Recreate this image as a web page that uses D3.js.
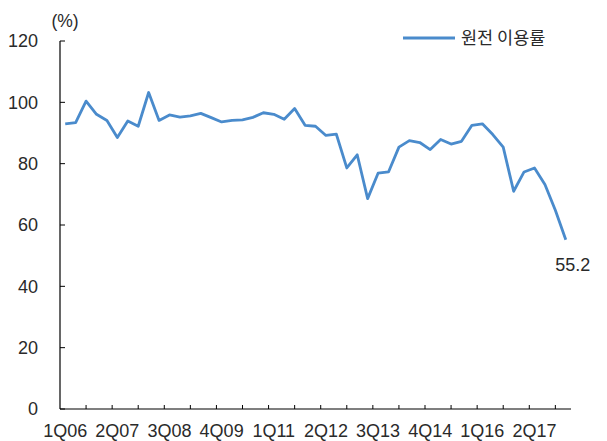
<!DOCTYPE html>
<html>
<head>
<meta charset="utf-8">
<script src="https://cdn.jsdelivr.net/npm/d3@7"></script>
<style>
  body { margin: 0; background: #fff; }
  text { font-family: "Liberation Sans", Arial, "Noto Sans CJK KR", sans-serif; fill: #2a2a2a; }
</style>
</head>
<body>
<svg id="chart"></svg>
<script>
const width = 607;
const height = 441;

const quarters = [
  '1Q06','2Q06','3Q06','4Q06','1Q07','2Q07','3Q07','4Q07',
  '1Q08','2Q08','3Q08','4Q08','1Q09','2Q09','3Q09','4Q09',
  '1Q10','2Q10','3Q10','4Q10','1Q11','2Q11','3Q11','4Q11',
  '1Q12','2Q12','3Q12','4Q12','1Q13','2Q13','3Q13','4Q13',
  '1Q14','2Q14','3Q14','4Q14','1Q15','2Q15','3Q15','4Q15',
  '1Q16','2Q16','3Q16','4Q16','1Q17','2Q17','3Q17','4Q17',
  '1Q18'
];
const utilization = [
  93.0, 93.4, 100.4, 96.1, 94.1, 88.5, 93.9, 92.2,
  103.2, 94.1, 95.9, 95.2, 95.6, 96.4, 95.0, 93.6,
  94.1, 94.3, 95.1, 96.6, 96.1, 94.5, 98.0, 92.5,
  92.2, 89.2, 89.6, 78.6, 82.9, 68.6, 76.9, 77.3,
  85.4, 87.5, 86.9, 84.6, 87.9, 86.4, 87.3, 92.5,
  93.0, 89.5, 85.4, 71.0, 77.3, 78.6, 73.2, 64.8,
  55.2
];
const xTickLabels = ['1Q06','2Q07','3Q08','4Q09','1Q11','2Q12','3Q13','4Q14','1Q16','2Q17'];
const yTicks = [0, 20, 40, 60, 80, 100, 120];
const seriesName = '원전 이용률';

const plotLeft = 60, plotRight = 571, plotTop = 41, plotBottom = 409;
const lineColor = '#4a8bcc';

const svg = d3.select('#chart')
  .attr('width', width)
  .attr('height', height);

const x = d3.scaleBand()
  .domain(quarters)
  .range([plotLeft, plotRight]);

const y = d3.scaleLinear()
  .domain([0, 120])
  .range([plotBottom, plotTop]);

const xc = d => x(d) + x.bandwidth() / 2;

// y axis
svg.append('line')
  .attr('x1', plotLeft).attr('x2', plotLeft)
  .attr('y1', plotTop).attr('y2', plotBottom)
  .attr('stroke', '#000').attr('stroke-width', 1.2);

svg.append('g')
  .selectAll('line')
  .data(yTicks)
  .enter()
  .append('line')
  .attr('x1', plotLeft).attr('x2', plotLeft + 5)
  .attr('y1', d => y(d)).attr('y2', d => y(d))
  .attr('stroke', '#000');

svg.append('g')
  .selectAll('text')
  .data(yTicks)
  .enter()
  .append('text')
  .attr('x', 38)
  .attr('y', d => y(d))
  .attr('dy', '0.36em')
  .attr('text-anchor', 'end')
  .style('font-size', '18px')
  .text(d => d);

svg.append('text')
  .attr('x', 65)
  .attr('y', 27)
  .attr('text-anchor', 'middle')
  .style('font-size', '17.5px')
  .text('(%)');

// x axis
svg.append('line')
  .attr('x1', plotLeft).attr('x2', plotRight)
  .attr('y1', plotBottom).attr('y2', plotBottom)
  .attr('stroke', '#000').attr('stroke-width', 1.2);

// minor ticks every 2.5 quarters
const tickStep = x.step() * 2.5;
const xTickPos = d3.range(1, 20).map(k => plotLeft + k * tickStep);
svg.append('g')
  .selectAll('line')
  .data(xTickPos)
  .enter()
  .append('line')
  .attr('x1', d => d).attr('x2', d => d)
  .attr('y1', plotBottom).attr('y2', plotBottom - 4)
  .attr('stroke', '#000');

svg.append('g')
  .selectAll('text')
  .data(xTickLabels)
  .enter()
  .append('text')
  .attr('x', d => xc(d))
  .attr('y', 437)
  .attr('text-anchor', 'middle')
  .style('font-size', '18px')
  .text(d => d);

// line
const data = quarters.map((q, i) => ({q: q, v: utilization[i]}));

svg.append('path')
  .datum(data)
  .attr('fill', 'none')
  .attr('stroke', lineColor)
  .attr('stroke-width', 2.8)
  .attr('stroke-linejoin', 'round')
  .attr('d', d3.line()
    .x(d => xc(d.q))
    .y(d => y(d.v)));

// last value label
const last = data[data.length - 1];
svg.append('text')
  .attr('x', xc(last.q) + 7)
  .attr('y', 271)
  .attr('text-anchor', 'middle')
  .style('font-size', '18px')
  .text(last.v.toFixed(1));

// legend
svg.append('line')
  .attr('x1', 403).attr('x2', 455)
  .attr('y1', 38).attr('y2', 38)
  .attr('stroke', lineColor).attr('stroke-width', 2.8);

svg.append('text')
  .attr('x', 461)
  .attr('y', 38)
  .attr('dy', '0.36em')
  .style('font-size', '17.5px')
  .style('font-family', '"Noto Sans CJK KR", sans-serif')
  .text(seriesName);
</script>
</body>
</html>
